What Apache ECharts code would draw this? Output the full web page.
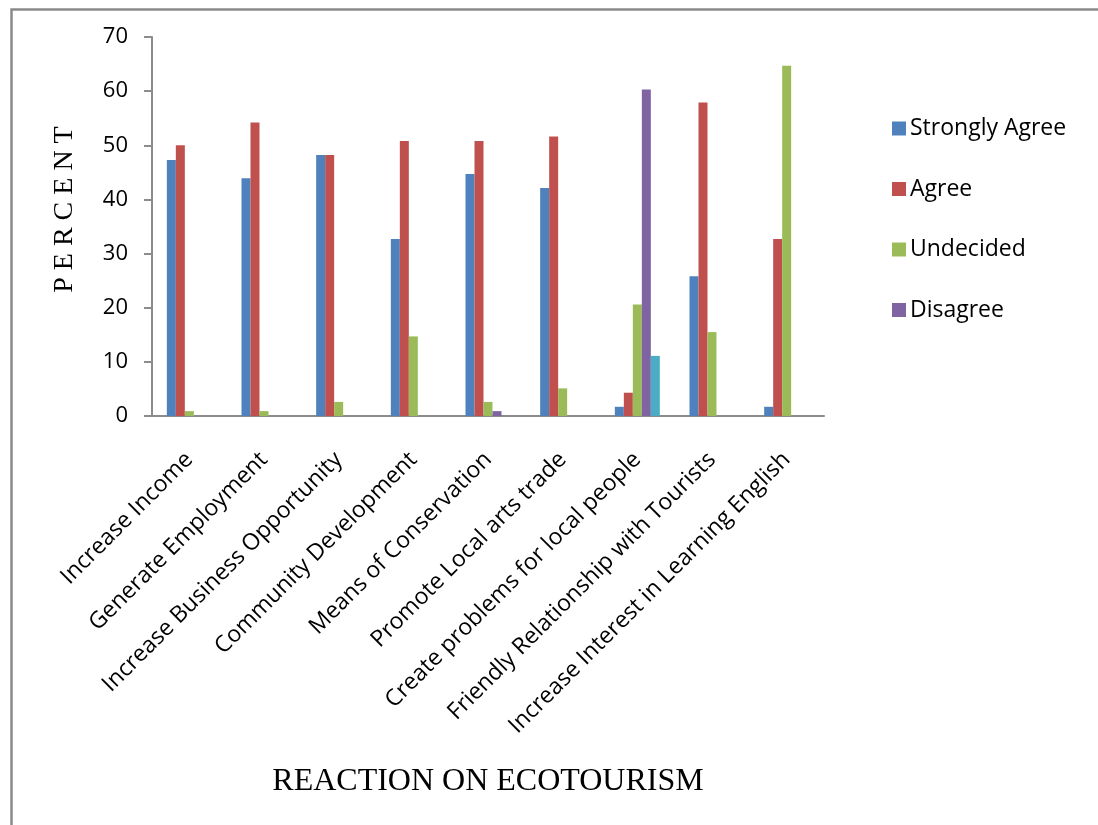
<!DOCTYPE html>
<html>
<head>
<meta charset="utf-8">
<title>Reaction on Ecotourism</title>
<script src="https://cdn.jsdelivr.net/npm/echarts@6/dist/echarts.min.js"></script>
<style>
  html, body { margin: 0; padding: 0; background: #fff; }
  #chart { width: 1098px; height: 825px; }
</style>
</head>
<body>
<div id="chart"></div>
<script>
// Survey responses (%) per statement about ecotourism
const categories = [
  'Increase Income',
  'Generate Employment',
  'Increase Business Opportunity',
  'Community Development',
  'Means of Conservation',
  'Promote Local arts trade',
  'Create problems for local people',
  'Friendly Relationship with Tourists',
  'Increase Interest in Learning English'
];
const stronglyAgree    = [47.3, 43.9, 48.2, 32.7, 44.7, 42.1, 1.7, 25.8, 1.7];
const agree            = [50.0, 54.2, 48.2, 50.8, 50.8, 51.6, 4.3, 57.9, 32.7];
const undecided        = [0.9, 0.9, 2.6, 14.7, 2.6, 5.1, 20.6, 15.5, 64.7];
const disagree         = [0, 0, 0, 0, 0.9, 0, 60.3, 0, 0];
const stronglyDisagree = [0, 0, 0, 0, 0, 0, 11.1, 0, 0];
const yTicks = [0, 10, 20, 30, 40, 50, 60, 70];

const font = '"Open Sans", "Noto Sans", sans-serif';
const serif = '"Liberation Serif", "DejaVu Serif", serif';

function bar(name, data, color) {
  return {
    name: name,
    type: 'bar',
    data: data,
    barWidth: 9,
    barGap: '0%',
    itemStyle: { color: color },
    emphasis: { disabled: true }
  };
}

const chart = echarts.init(document.getElementById('chart'), null, { renderer: 'canvas' });
chart.setOption({
  animation: false,
  backgroundColor: '#ffffff',
  grid: { left: 152, right: 274, top: 37, bottom: 409, containLabel: false },
  legend: {
    orient: 'vertical',
    left: 887,
    top: 112,
    data: ['Strongly Agree', 'Agree', 'Undecided', 'Disagree'],
    itemWidth: 14,
    itemHeight: 14,
    itemGap: 37.5,
    icon: 'rect',
    textStyle: { fontFamily: font, fontSize: 23, color: '#000', padding: [0, 0, 0, -1] }
  },
  xAxis: {
    type: 'category',
    data: categories,
    name: 'REACTION ON ECOTOURISM',
    nameLocation: 'middle',
    nameGap: 350,
    nameTextStyle: { fontFamily: serif, fontSize: 32, color: '#000' },
    axisLine: { lineStyle: { color: '#8c8c8c', width: 2 } },
    axisTick: { show: false },
    axisLabel: {
      rotate: 45,
      margin: 40,
      interval: 0,
      fontFamily: font,
      fontSize: 23,
      color: '#000'
    }
  },
  yAxis: {
    type: 'value',
    min: yTicks[0],
    max: yTicks[yTicks.length - 1],
    interval: 10,
    name: 'P E R C E N T',
    nameLocation: 'middle',
    nameRotate: 90,
    nameGap: 73,
    nameTextStyle: { fontFamily: serif, fontSize: 28, color: '#000', padding: [0, 0, 0, 34] },
    axisLine: { show: true, lineStyle: { color: '#8c8c8c', width: 2 } },
    axisTick: { show: true, length: 8, lineStyle: { color: '#8c8c8c', width: 2 } },
    splitLine: { show: false },
    axisLabel: { margin: 24, fontFamily: font, fontSize: 22, color: '#000' }
  },
  series: [
    bar('Strongly Agree', stronglyAgree, '#4F81BD'),
    bar('Agree', agree, '#C0504D'),
    bar('Undecided', undecided, '#9BBB59'),
    bar('Disagree', disagree, '#8064A2'),
    bar('Strongly Disagree', stronglyDisagree, '#4BACC6')
  ],
  graphic: [{
    type: 'rect',
    left: 9,
    top: 7,
    shape: { width: 1120, height: 840 },
    style: { fill: 'none', stroke: '#8a8a8a', lineWidth: 2.5 },
    silent: true
  }]
});
</script>
</body>
</html>
